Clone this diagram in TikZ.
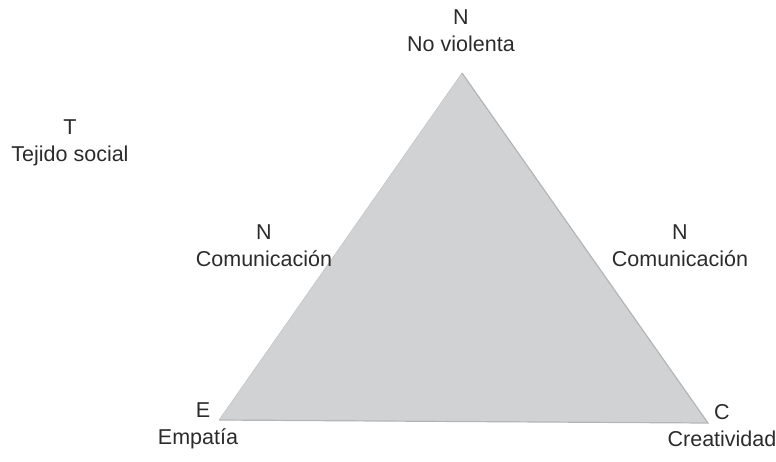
\documentclass[tikz,border=0pt]{standalone}
\usepackage{fontspec}
\setmainfont{Liberation Sans}
\usepackage{tikz}
\usetikzlibrary{positioning}
\definecolor{TriFill}{HTML}{D1D2D4}
\definecolor{TriEdge}{HTML}{B4B5B7}
\definecolor{LabText}{HTML}{2B2B2B}

\begin{document}
\begin{tikzpicture}[x=1pt,y=-1pt,
    lab/.style={align=center,text=LabText,inner sep=0pt,
      font=\fontsize{21.5}{27}\selectfont}]
  \useasboundingbox (0,0) rectangle (776,461);
  % corners of the triangle
  \coordinate (top) at (462,73);
  \coordinate (left) at (219,420);
  \coordinate (right) at (708,423);
  \fill[TriFill] (top) -- (left) -- (right) -- cycle;
  \draw[TriEdge,line width=1.2pt] (top) -- (right) -- (left);
  \draw[TriFill!92!black,line width=0.5pt] (left) -- (top);
  % labels
  \node[lab] (nv) at (461,31) {N\\No violenta};
  \node[lab] (ts) at (70,143) {T\\Tejido social};
  \node[lab] (cl) at (264,246) {N\\Comunicación};
  \node[lab] (cr) at (680,246) {N\\Comunicación};
  \node[lab] (em) at (198,426) {\hspace*{10pt}E\\Empatía};
  \node[lab] (cr2) at (722,426) {C\\Creatividad};
\end{tikzpicture}
\end{document}
